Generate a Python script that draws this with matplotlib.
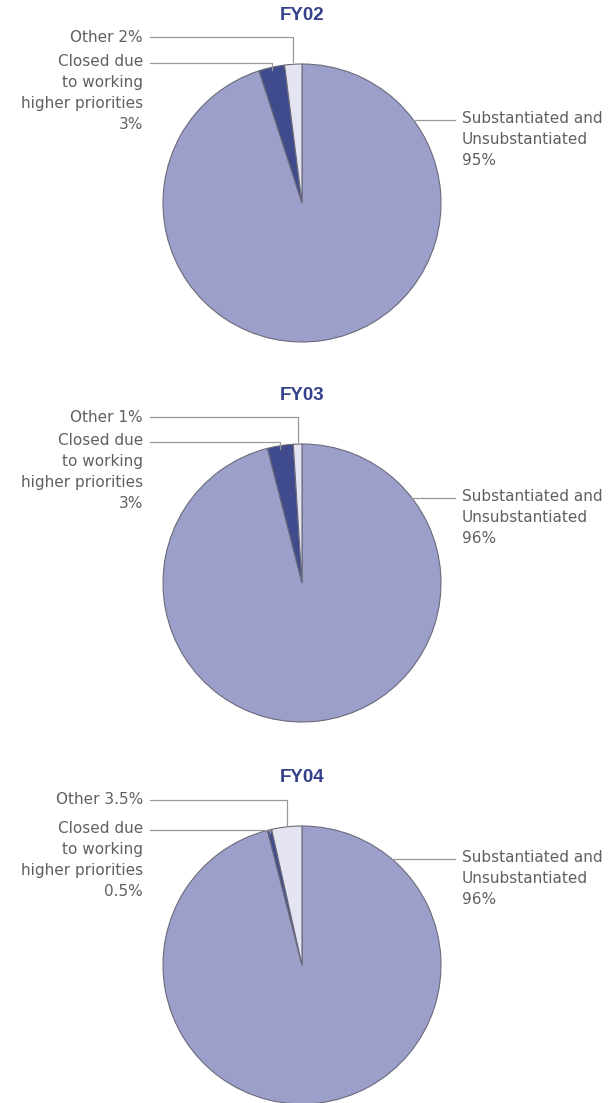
import numpy as np
import matplotlib.pyplot as plt

plt.rcParams['font.family'] = ['DejaVu Sans']

years = ['FY02', 'FY03', 'FY04']
substantiated = [95, 96, 96]
closed = [3, 3, 0.5]
other = [2, 1, 3.5]
closed_labels = ['3%', '3%', '0.5%']
other_labels = ['Other 2%', 'Other 1%', 'Other 3.5%']
main_labels = ['95%', '96%', '96%']

colors = ['#9c9fca', '#3f4b8c', '#e4e5f1']
text_color = '#606060'
title_color = '#34418a'
line_color = '#999999'

W, H = 615, 1103
fig = plt.figure(figsize=(W / 100, H / 100), dpi=100)
ax = fig.add_axes([0, 0, 1, 1])
ax.set_xlim(0, W)
ax.set_ylim(0, H)
ax.set_aspect('equal')
ax.axis('off')

cx = 302
centers_y = [203, 583, 965]   # pixel rows of the pie centres
title_y = [15, 395, 777]
other_y = [37, 417, 800]
closed_y = [63, 442, 830]
main_y = [120, 498, 859]
r = 139


def pt(py):
    return H - py


for i, yr in enumerate(years):
    cy = pt(centers_y[i])
    vals = [substantiated[i], closed[i], other[i]]
    wedges, _ = ax.pie(vals, colors=colors, startangle=90, counterclock=False,
                       center=(cx, cy), radius=r, frame=True,
                       wedgeprops=dict(edgecolor='#6a6a7a', linewidth=0.8))
    ax.text(cx, pt(title_y[i]), yr, ha='center', va='center', fontsize=13.5,
            fontweight='bold', color=title_color, family='Liberation Sans')

    # leader for "Other"
    w = wedges[2]
    a = np.deg2rad((w.theta1 + w.theta2) / 2)
    x_o = cx + r * np.cos(a)
    y_top = cy + r * np.sin(a)
    ax.plot([150, x_o, x_o], [pt(other_y[i]), pt(other_y[i]), y_top + 2],
            color=line_color, lw=0.9)
    ax.text(143, pt(other_y[i]), other_labels[i], ha='right', va='center',
            fontsize=11, color=text_color)

    # leader for "Closed"
    w = wedges[1]
    a = np.deg2rad((w.theta1 + w.theta2) / 2)
    x_c = cx + r * np.cos(a)
    y_c = cy + r * np.sin(a)
    ax.plot([150, x_c, x_c], [pt(closed_y[i]), pt(closed_y[i]), y_c - 3],
            color=line_color, lw=0.9)
    ax.text(143, pt(closed_y[i]) + 9,
            'Closed due\nto working\nhigher priorities\n' + closed_labels[i],
            ha='right', va='top', fontsize=11, color=text_color,
            linespacing=1.5)

    # leader for main slice
    dy = pt(main_y[i]) - cy
    x_e = cx + np.sqrt(r ** 2 - dy ** 2)
    ax.plot([x_e, 455], [pt(main_y[i]), pt(main_y[i])], color=line_color, lw=0.9)
    ax.text(462, pt(main_y[i]) + 9,
            'Substantiated and\nUnsubstantiated\n' + main_labels[i],
            ha='left', va='top', fontsize=11, color=text_color,
            linespacing=1.5)

fig.savefig('out.png', dpi=100)
